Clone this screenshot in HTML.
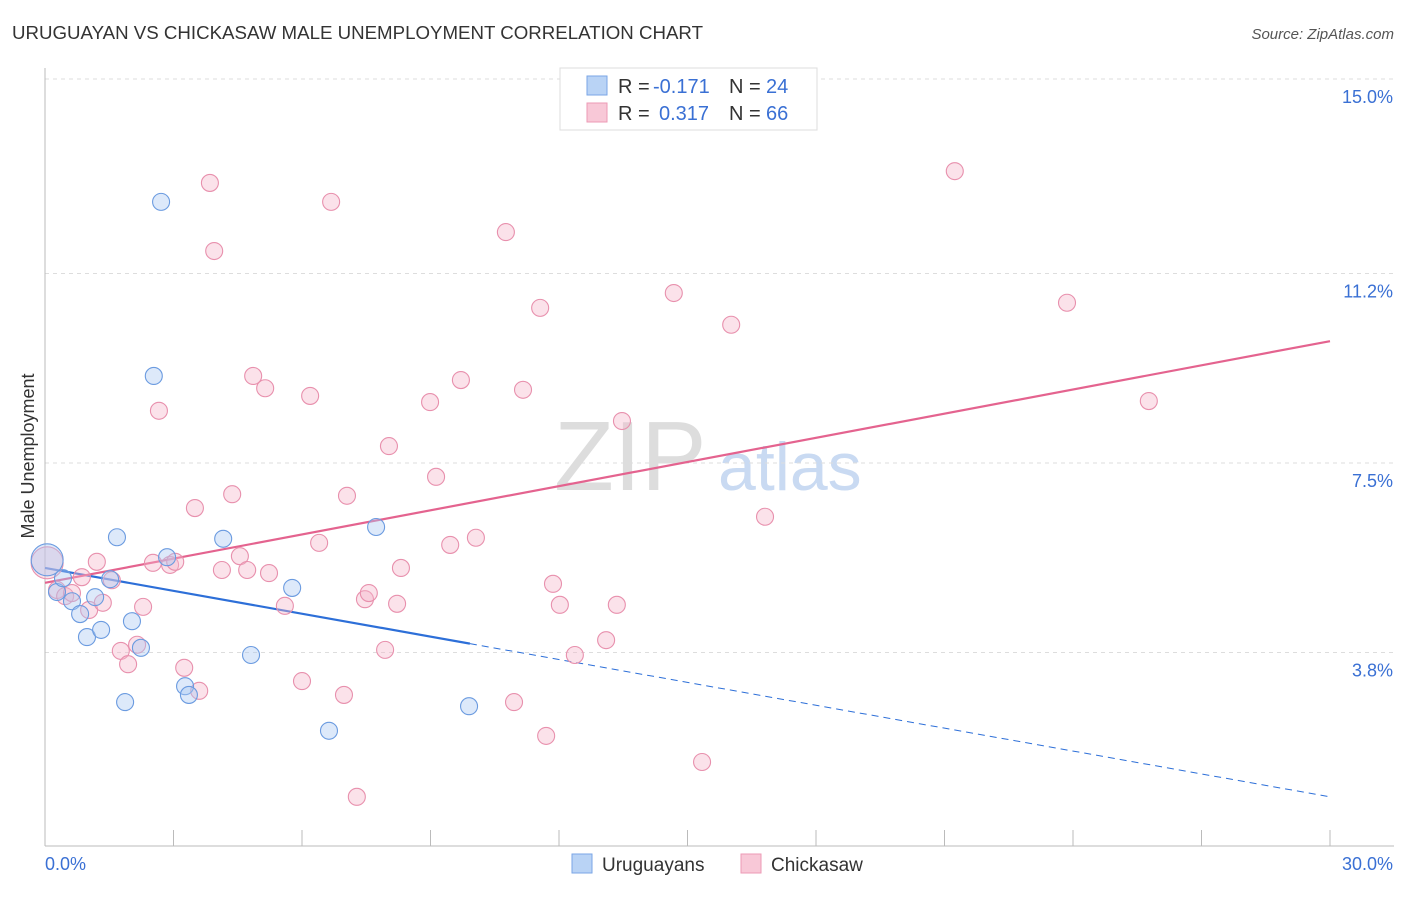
<!DOCTYPE html>
<html><head><meta charset="utf-8"><style>
body{margin:0;background:#fff;font-family:"Liberation Sans",sans-serif;}
svg text{font-family:"Liberation Sans",sans-serif;}
</style></head><body>
<svg id="chart" width="1406" height="892" viewBox="0 0 1406 892" xmlns="http://www.w3.org/2000/svg">
<text x="12" y="39" font-size="18" fill="#333" textLength="691" lengthAdjust="spacingAndGlyphs">URUGUAYAN VS CHICKASAW MALE UNEMPLOYMENT CORRELATION CHART</text>
<text x="1394" y="39" font-size="15" fill="#555" text-anchor="end" font-style="italic">Source: ZipAtlas.com</text>
<text transform="translate(34,456) rotate(-90)" font-size="18" fill="#333" text-anchor="middle">Male Unemployment</text>
<g>
<text x="554" y="490" font-size="98" fill="#ddd" font-family="Liberation Serif,serif">ZIP</text>
<text x="718" y="490" font-size="68" fill="#c9daf2">atlas</text>
</g>
<g id="grid"></g><g id="axes"></g><g id="trend"></g><g id="pts"></g>
<g>
<rect x="560" y="68" width="257" height="62" fill="#fff" stroke="#ddd"/>
<rect x="587" y="76" width="20" height="19" fill="#b9d3f5" stroke="#7aa6e6"/>
<rect x="587" y="103" width="20" height="19" fill="#f8c8d7" stroke="#ec9ab5"/>
<text x="618" y="93" font-size="20" fill="#333">R = </text><text x="653" y="93" font-size="20" fill="#3a70d4">-0.171</text>
<text x="729" y="93" font-size="20" fill="#333">N = </text><text x="766" y="93" font-size="20" fill="#3a70d4">24</text>
<text x="618" y="120" font-size="20" fill="#333">R = </text><text x="659" y="120" font-size="20" fill="#3a70d4">0.317</text>
<text x="729" y="120" font-size="20" fill="#333">N = </text><text x="766" y="120" font-size="20" fill="#3a70d4">66</text>
</g>
<g>
<rect x="572" y="854" width="20" height="19" fill="#b9d3f5" stroke="#7aa6e6"/>
<text x="602" y="871" font-size="19" fill="#333">Uruguayans</text>
<rect x="741" y="854" width="20" height="19" fill="#f8c8d7" stroke="#ec9ab5"/>
<text x="771" y="871" font-size="19" fill="#333">Chickasaw</text>
</g>
</svg>
<script>
const yTicks=[3.8,7.5,11.2,15.0];
const yTickLabels=["3.8%","7.5%","11.2%","15.0%"];
const xTickLabels=["0.0%","30.0%"];
const blueX=[0.05,0.28,0.42,0.63,0.82,0.98,1.17,1.31,1.52,1.68,1.87,2.03,2.24,2.54,2.71,2.85,3.27,3.36,4.16,4.81,5.77,6.63,7.73,9.90];
const blueY=[5.61,4.98,5.25,4.80,4.55,4.10,4.88,4.24,5.23,6.05,2.83,4.41,3.89,9.20,12.60,5.66,3.14,2.97,6.02,3.75,5.06,2.27,6.25,2.75];
const pinkX=[0.05,0.28,0.47,0.63,0.86,1.03,1.21,1.35,1.56,1.77,1.94,2.15,2.29,2.52,2.66,2.92,3.04,3.25,3.50,3.60,3.85,3.95,4.13,4.37,4.55,4.72,4.86,5.14,5.23,5.60,6.00,6.19,6.40,6.68,6.98,7.05,7.28,7.47,7.56,7.94,8.03,8.22,8.31,8.99,9.13,9.46,9.71,10.06,10.76,10.95,11.16,11.56,11.70,11.86,12.02,12.37,13.10,13.35,13.47,14.68,15.34,16.02,16.81,21.24,23.86,25.77];
const pinkY=[5.55,5.02,4.90,4.96,5.27,4.63,5.57,4.77,5.21,3.83,3.57,3.95,4.69,5.55,8.52,5.51,5.57,3.50,6.62,3.05,12.97,11.64,5.41,6.89,5.68,5.41,9.20,8.96,5.35,4.71,3.24,8.81,5.94,12.60,2.97,6.86,0.98,4.84,4.96,3.85,7.83,4.75,5.45,8.69,7.23,5.90,9.12,6.04,12.01,2.83,8.93,10.53,2.17,5.14,4.73,3.75,4.04,4.73,8.32,10.82,1.66,10.20,6.45,13.20,10.63,8.71];
const blueTrend=[5.45,0.98]; const blueSolidEnd=9.92;
const pinkTrend=[5.16,9.88];
const NS="http://www.w3.org/2000/svg";
const sx=v=>45+v/30*1285, sy=v=>847-v*51.2;
function mk(tag,attrs,parent){const e=document.createElementNS(NS,tag);for(const k in attrs)e.setAttribute(k,attrs[k]);document.getElementById(parent).appendChild(e);return e;}
const g0=mk('line',{x1:45,y1:79,x2:1394,y2:79,stroke:'#ddd','stroke-dasharray':'4,4'},'grid');


yTicks.forEach((t,i)=>{
 const l=mk('line',{x1:45,y1:sy(t),x2:1394,y2:sy(t),stroke:'#ddd','stroke-dasharray':'4,4'},'grid');
 
 
 const tx=mk('text',{x:1393,y:sy(t)+24,'font-size':18,fill:'#3a70d4','text-anchor':'end'},'grid');
 tx.textContent=yTickLabels[i];
 
 
});
const ya=mk('line',{x1:45,y1:68,x2:45,y2:846,stroke:'#bbb'},'axes');


const xa=mk('line',{x1:45,y1:846,x2:1394,y2:846,stroke:'#bbb'},'axes');


for(let i=0;i<=10;i++){const t=mk('line',{x1:sx(i*3),y1:830,x2:sx(i*3),y2:846,stroke:'#bbb'},'axes');
 
 }
const xl0=mk('text',{x:45,y:870,'font-size':18,fill:'#3a70d4'},'axes');xl0.textContent=xTickLabels[0];


const xl1=mk('text',{x:1393,y:870,'font-size':18,fill:'#3a70d4','text-anchor':'end'},'axes');xl1.textContent=xTickLabels[1];


function pts(X,Y,fill,stroke,name){X.forEach((x,i)=>{const c=mk('circle',{cx:sx(x),cy:sy(Y[i]),r:i===0?16:8.5,fill:fill,'fill-opacity':0.4,stroke:stroke,'stroke-width':1.1},'pts');
 
 });}
pts(pinkX,pinkY,'#f4b6ca','#e890ad','chickasaw-point');
pts(blueX,blueY,'#a9c8f2','#6b9be0','uruguayan-point');
const bAt=x=>blueTrend[0]+(blueTrend[1]-blueTrend[0])*x/30;
const b1=mk('line',{x1:sx(0),y1:sy(bAt(0)),x2:sx(blueSolidEnd),y2:sy(bAt(blueSolidEnd)),stroke:'#2d6fd8','stroke-width':2.2},'trend');


const b2=mk('line',{x1:sx(blueSolidEnd),y1:sy(bAt(blueSolidEnd)),x2:sx(30),y2:sy(bAt(30)),stroke:'#2d6fd8','stroke-width':1,'stroke-dasharray':'7,5'},'trend');


const p1=mk('line',{x1:sx(0),y1:sy(pinkTrend[0]),x2:sx(30),y2:sy(pinkTrend[1]),stroke:'#e4638f','stroke-width':2.2},'trend');


</script>
</body></html>
